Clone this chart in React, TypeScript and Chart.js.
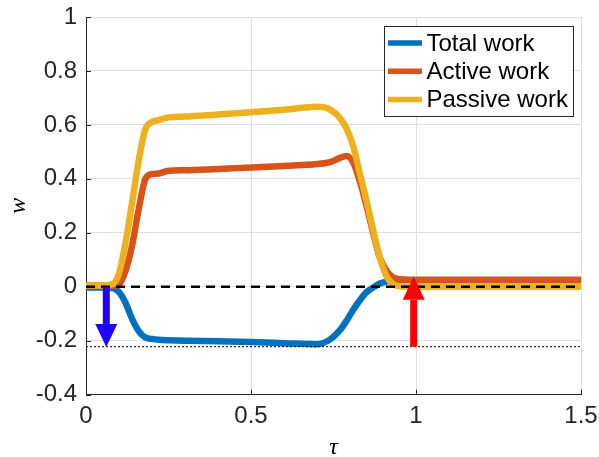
import React, { useEffect, useRef } from 'react';
import { Chart, registerables } from 'chart.js';

Chart.register(...registerables);

// ---- data ----
const tau = [0, 0.04, 0.08, 0.1, 0.12, 0.14, 0.16, 0.18, 0.2, 0.22, 0.25, 0.3, 0.4, 0.5, 0.6, 0.7, 0.74, 0.77, 0.79, 0.81, 0.83, 0.85, 0.87, 0.89, 0.91, 0.93, 0.95, 1.0, 1.2, 1.5];
const totalWork = [-0.003, -0.003, -0.005, -0.02, -0.06, -0.12, -0.165, -0.188, -0.193, -0.196, -0.198, -0.2, -0.202, -0.205, -0.209, -0.213, -0.195, -0.16, -0.125, -0.085, -0.05, -0.02, -0.003, 0.012, 0.019, 0.023, 0.025, 0.025, 0.025, 0.025];
const activeWork = [0.005, 0.005, 0.004, 0.01, 0.06, 0.155, 0.29, 0.4, 0.418, 0.42, 0.43, 0.432, 0.437, 0.442, 0.448, 0.455, 0.462, 0.478, 0.485, 0.46, 0.39, 0.3, 0.2, 0.11, 0.06, 0.035, 0.028, 0.025, 0.025, 0.025];
const passiveWork = [0.005, 0.005, 0.01, 0.05, 0.165, 0.315, 0.47, 0.585, 0.611, 0.618, 0.628, 0.631, 0.639, 0.647, 0.656, 0.667, 0.657, 0.625, 0.585, 0.52, 0.42, 0.32, 0.21, 0.11, 0.04, 0.01, 0.002, 0, 0, 0];

const zeroTau = [0, 1.5];
const zeroLevel = [0, 0];
const refTau = [0, 1.5];
const refLevel = [-0.222, -0.222];

const arrowTau = [0.0615, 0.993];
const arrowFrom = [0, -0.222];
const arrowTo = [-0.223, 0.037];

const xTicks = [0, 0.5, 1, 1.5];
const xTickLabels = ['0', '0.5', '1', '1.5'];
const yTicks = [-0.4, -0.2, 0, 0.2, 0.4, 0.6, 0.8, 1];
const yTickLabels = ['-0.4', '-0.2', '0', '0.2', '0.4', '0.6', '0.8', '1'];

const seriesLabels = ['Total work', 'Active work', 'Passive work'];
const xTitle = 'τ';
const yTitle = 'w';

// ---- styles ----
const COLORS = { total: '#0072BD', active: '#D95319', passive: '#EDB120' };
const ARROW_COLORS = ['#1f00ff', '#ff0000'];
const AXIS_COLOR = '#262626';
const GRID_COLOR = 'rgb(223,223,223)';
const SANS = '"Liberation Sans", Arial, Helvetica, sans-serif';
const SERIF = '"Liberation Serif", "Times New Roman", serif';

const pts = (xs: number[], ys: number[]) => xs.map((x, i) => ({ x, y: ys[i] }));

const insideTicks = {
  id: 'insideTicks',
  beforeDatasetsDraw(chart: any) {
    const { ctx, scales } = chart;
    const xs = scales.x;
    const ys = scales.y;
    const area = chart.chartArea;
    ctx.save();
    ctx.strokeStyle = AXIS_COLOR;
    ctx.lineWidth = 1;
    ctx.beginPath();
    xTicks.forEach((v) => {
      const px = Math.round(xs.getPixelForValue(v)) + 0.5;
      ctx.moveTo(px, area.bottom);
      ctx.lineTo(px, area.bottom - 5);
    });
    yTicks.forEach((v) => {
      const py = Math.round(ys.getPixelForValue(v)) + 0.5;
      ctx.moveTo(area.left, py);
      ctx.lineTo(area.left + 5, py);
    });
    ctx.stroke();
    ctx.restore();
  },
};

const arrows = {
  id: 'arrows',
  afterDatasetsDraw(chart: any) {
    const { ctx, scales } = chart;
    const shaftW = 7;
    const headW = 22;
    const headL = 23;
    ctx.save();
    arrowTau.forEach((t, i) => {
      const x = scales.x.getPixelForValue(t);
      const y0 = scales.y.getPixelForValue(arrowFrom[i]);
      const y1 = scales.y.getPixelForValue(arrowTo[i]);
      const dir = y1 > y0 ? 1 : -1;
      const yb = y1 - dir * headL;
      ctx.fillStyle = ARROW_COLORS[i];
      ctx.beginPath();
      ctx.rect(x - shaftW / 2, Math.min(y0, yb), shaftW, Math.abs(yb - y0));
      ctx.fill();
      ctx.beginPath();
      ctx.moveTo(x - headW / 2, yb);
      ctx.lineTo(x + headW / 2, yb);
      ctx.lineTo(x, y1);
      ctx.closePath();
      ctx.fill();
    });
    ctx.restore();
  },
};

const boxLegend = {
  id: 'boxLegend',
  afterDraw(chart: any) {
    const { ctx } = chart;
    const area = chart.chartArea;
    const right = area.right - 8.5;
    const left = right - 189;
    const top = area.top + 9;
    const rowH = 28.2;
    const h = 90;
    ctx.save();
    ctx.fillStyle = '#ffffff';
    ctx.fillRect(left, top, right - left, h);
    ctx.strokeStyle = AXIS_COLOR;
    ctx.lineWidth = 1;
    ctx.strokeRect(Math.round(left) + 0.5, Math.round(top) + 0.5, right - left, h);
    const items = chart.data.datasets.filter((d: any) => seriesLabels.includes(d.label));
    items.sort((a: any, b: any) => seriesLabels.indexOf(a.label) - seriesLabels.indexOf(b.label));
    ctx.font = '24px ' + SANS;
    ctx.textBaseline = 'middle';
    ctx.textAlign = 'left';
    items.forEach((d: any, i: number) => {
      const y = top + 17 + i * rowH;
      ctx.strokeStyle = d.borderColor;
      ctx.lineWidth = 5.5;
      ctx.beginPath();
      ctx.moveTo(left + 4.5, y);
      ctx.lineTo(left + 38.5, y);
      ctx.stroke();
      ctx.fillStyle = '#000000';
      ctx.fillText(d.label, left + 43, y + 1);
    });
    ctx.restore();
  },
};

export default function App() {
  const ref = useRef<HTMLCanvasElement | null>(null);

  useEffect(() => {
    if (!ref.current) return;
    const lineBase = {
      pointRadius: 0,
      pointHoverRadius: 0,
      fill: false,
      cubicInterpolationMode: 'monotone' as const,
    };
    const chart = new Chart(ref.current, {
      type: 'line',
      data: {
        datasets: [
          {
            label: 'zero',
            data: pts(zeroTau, zeroLevel),
            borderColor: '#000000',
            borderWidth: 2.5,
            borderDash: [9, 6],
            pointRadius: 0,
            fill: false,
          },
          {
            label: 'reference',
            data: pts(refTau, refLevel),
            borderColor: '#000000',
            borderWidth: 1,
            borderDash: [2, 2],
            pointRadius: 0,
            fill: false,
          },
          {
            ...lineBase,
            label: seriesLabels[2],
            data: pts(tau, passiveWork),
            borderColor: COLORS.passive,
            borderWidth: 6.5,
          },
          {
            ...lineBase,
            label: seriesLabels[1],
            data: pts(tau, activeWork),
            borderColor: COLORS.active,
            borderWidth: 6.5,
          },
          {
            ...lineBase,
            label: seriesLabels[0],
            data: pts(tau, totalWork),
            borderColor: COLORS.total,
            borderWidth: 6.5,
          },
        ],
      },
      options: {
        responsive: false,
        animation: false,
        events: [],
        layout: { padding: { left: 0, right: 18, top: 17, bottom: 0 } },
        plugins: {
          legend: { display: false },
          tooltip: { enabled: false },
        },
        scales: {
          x: {
            type: 'linear',
            min: 0,
            max: 1.5,
            afterBuildTicks: (s: any) => {
              s.ticks = xTicks.map((v) => ({ value: v }));
            },
            afterFit: (s: any) => {
              s.height = 62.3;
              s.paddingLeft = 0;
              s.paddingRight = 0;
            },
            ticks: {
              autoSkip: false,
              maxRotation: 0,
              padding: 7,
              color: AXIS_COLOR,
              font: { family: SANS, size: 24 },
              callback: (_v: any, i: number) => xTickLabels[i],
            },
            grid: { color: GRID_COLOR, lineWidth: 1, drawTicks: false },
            border: { display: true, color: AXIS_COLOR, width: 1 },
            title: {
              display: true,
              text: xTitle,
              color: '#000000',
              font: { family: SERIF, size: 24, style: 'italic', lineHeight: 0.8 },
              padding: { top: 0, bottom: 0 },
            },
          },
          y: {
            type: 'linear',
            min: -0.4,
            max: 1,
            afterBuildTicks: (s: any) => {
              s.ticks = yTicks.map((v) => ({ value: v }));
            },
            afterFit: (s: any) => {
              s.width = 86;
              s.paddingTop = 0;
              s.paddingBottom = 0;
            },
            ticks: {
              autoSkip: false,
              padding: 9,
              color: AXIS_COLOR,
              font: { family: SANS, size: 24 },
              callback: (_v: any, i: number) => yTickLabels[i],
            },
            grid: { color: GRID_COLOR, lineWidth: 1, drawTicks: false },
            border: { display: true, color: AXIS_COLOR, width: 1 },
            title: {
              display: true,
              text: yTitle,
              color: '#000000',
              font: { family: SERIF, size: 24, style: 'italic', lineHeight: 1 },
              padding: { top: 6.5, bottom: 0 },
            },
          },
        },
      },
      plugins: [insideTicks, arrows, boxLegend],
    });
    return () => chart.destroy();
  }, []);

  return (
    <div style={{ position: 'fixed', left: 0, top: 0, width: 599, height: 457, background: '#fff' }}>
      <canvas ref={ref} width={599} height={457} style={{ width: 599, height: 457 }} />
    </div>
  );
}
